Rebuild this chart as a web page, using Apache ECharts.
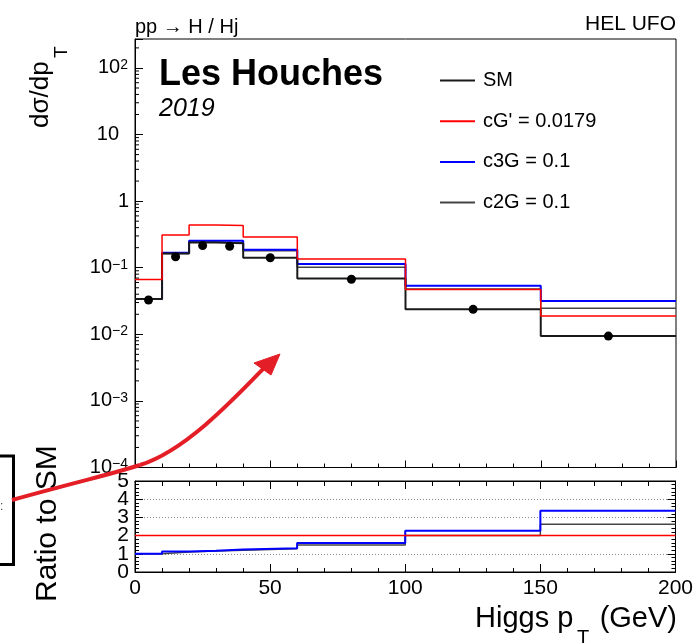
<!DOCTYPE html>
<html><head><meta charset="utf-8">
<script src="https://cdn.jsdelivr.net/npm/echarts@6/dist/echarts.min.js"></script>
<style>html,body{margin:0;padding:0;background:#fff}#c{width:696px;height:643px}</style>
</head><body><div id="c"></div>
<script>
// ---- data ----
const binEdges   = [0, 10, 20, 30, 40, 60, 100, 150, 200];
const binCenters = [5, 15, 25, 35, 50, 80, 125, 175];
const smHist     = [0.034, 0.164, 0.240, 0.233, 0.141, 0.069, 0.0237, 0.0094];
const smPoints   = [0.0328, 0.146, 0.215, 0.210, 0.141, 0.0672, 0.0237, 0.0094];
const cGHist     = [0.0668, 0.310, 0.437, 0.430, 0.290, 0.135, 0.047, 0.0188];
const c3GHist    = [0.034, 0.168, 0.255, 0.255, 0.186, 0.114, 0.0537, 0.0316];
const c2GHist    = [0.034, 0.164, 0.243, 0.236, 0.180, 0.102, 0.0479, 0.0246];
const cGRatio    = [2.0, 2.0, 2.0, 2.0, 2.0, 2.0, 2.0, 2.0];
const c3GRatio   = [1.0, 1.12, 1.17, 1.23, 1.30, 1.60, 2.27, 3.36];
const c2GRatio   = [1.0, 1.10, 1.15, 1.20, 1.28, 1.49, 2.00, 2.63];
const xTickLabels = ['0', '50', '100', '150', '200'];
const ratioTickLabels = ['0', '1', '2', '3', '4', '5'];
const seriesNames = ['SM', "cG' = 0.0179", 'c3G = 0.1', 'c2G = 0.1'];
const logMin = -4, logMax = Math.log10(272);

const FF = '"Liberation Sans", Arial, Helvetica, sans-serif';
const lg = v => Math.log10(v);
const id = v => v;
function stepData(vals, tf) {
  const d = [];
  for (let i = 0; i < vals.length; i++) d.push([binEdges[i], tf(vals[i])]);
  d.push([binEdges[vals.length], tf(vals[vals.length - 1])]);
  return d;
}
// minor log ticks 2..9 x 10^n
const minorLog = [];
for (let n = logMin; n <= 2; n++) for (let k = 2; k <= 9; k++) {
  const l = n + Math.log10(k);
  if (l < logMax) minorLog.push([0, l]);
}

const chart = echarts.init(document.getElementById('c'), null, {renderer: 'canvas'});
const black = '#000';
const tickStyle = {color: black, width: 1};

function stepSeries(name, vals, tf, color, width, xi, yi, z) {
  return {
    name, type: 'line', step: 'end', xAxisIndex: xi, yAxisIndex: yi,
    data: stepData(vals, tf), showSymbol: false, symbol: 'none',
    lineStyle: {color, width}, itemStyle: {color}, z, animation: false, silent: true
  };
}
// ratio labels split over two overlaid axes (even / odd) so none are auto-hidden
function ratioLabelAxis(parity, withLine) {
  return {gridIndex: 1, type: 'value', min: 0, max: 5, interval: 1, position: 'left',
    axisLine: {show: withLine, onZero: false, lineStyle: tickStyle},
    axisTick: {show: withLine, inside: true, length: 8, lineStyle: tickStyle},
    minorTick: {show: withLine, splitNumber: 5, length: 4, lineStyle: tickStyle},
    axisLabel: {show: true, margin: 6, fontSize: 21, fontFamily: FF, color: black,
      showMinLabel: true, showMaxLabel: true, hideOverlap: false,
      formatter: v => { const n = Math.round(v); return n % 2 === parity ? ratioTickLabels[n] : ''; }},
    splitLine: {show: withLine, lineStyle: {type: [1, 2], color: '#888', width: 1}}};
}

const option = {
  animation: false,
  backgroundColor: '#fff',
  grid: [
    {left: 135, top: 39, width: 541, height: 428.5, show: true, borderColor: black, borderWidth: 1, backgroundColor: 'transparent'},
    {left: 135, top: 481, width: 541, height: 91, show: true, borderColor: black, borderWidth: 1, backgroundColor: 'transparent'}
  ],
  legend: {
    data: seriesNames, orient: 'vertical', left: 440, top: 70.5, padding: 0,
    itemWidth: 35, itemHeight: 2, itemGap: 20.7, icon: 'rect', selectedMode: false,
    textStyle: {fontSize: 20, fontFamily: FF, color: black, padding: [0, 0, 0, 3]}
  },
  xAxis: [
    {gridIndex: 0, type: 'value', min: 0, max: 200, interval: 50, position: 'bottom',
     axisLine: {show: true, onZero: false, lineStyle: tickStyle},
     axisTick: {show: true, inside: true, length: 7, lineStyle: tickStyle},
     minorTick: {show: true, splitNumber: 5, length: 4, lineStyle: tickStyle},
     axisLabel: {show: false}, splitLine: {show: false}},
    {gridIndex: 1, type: 'value', min: 0, max: 200, interval: 50, position: 'bottom',
     axisLine: {show: true, onZero: false, lineStyle: tickStyle},
     axisTick: {show: true, inside: true, length: 8, lineStyle: tickStyle},
     minorTick: {show: true, splitNumber: 5, length: 4, lineStyle: tickStyle},
     axisLabel: {show: true, margin: 6, fontSize: 21, fontFamily: FF, color: black,
       showMinLabel: true, showMaxLabel: true, hideOverlap: false,
       formatter: v => xTickLabels[Math.round(v / 50)]},
     splitLine: {show: false}},
    {gridIndex: 1, type: 'value', min: 0, max: 200, interval: 50, position: 'top',
     axisLine: {show: true, onZero: false, lineStyle: tickStyle},
     axisTick: {show: true, inside: true, length: 8, lineStyle: tickStyle},
     minorTick: {show: true, splitNumber: 5, length: 5, lineStyle: tickStyle},
     axisLabel: {show: false}, splitLine: {show: false}}
  ],
  yAxis: [
    {gridIndex: 0, type: 'value', min: logMin, max: logMax, interval: 1,
     axisLine: {show: true, onZero: false, lineStyle: tickStyle},
     axisTick: {show: true, inside: true, length: 8, lineStyle: tickStyle},
     splitLine: {show: false},
     axisLabel: {show: true, margin: 6, fontFamily: FF, color: black, showMaxLabel: true, showMinLabel: true, hideOverlap: false,
       formatter: v => {
         const n = Math.round(v);
         if (Math.abs(v - n) > 1e-6) return '';
         if (n === 0) return '{b|1}';
         if (n === 1) return '{t|10}';
         return '{b|10}{s|' + (n < 0 ? '\u2212' : '') + Math.abs(n) + '}';
       },
       rich: {
         b: {fontSize: 20, fontFamily: FF, color: black, lineHeight: 20},
         t: {fontSize: 20, fontFamily: FF, color: black, lineHeight: 20, padding: [0, 10, 0, 0]},
         s: {fontSize: 14, fontFamily: FF, color: black, lineHeight: 14, verticalAlign: 'top', padding: [0, 1, 0, 0]}
       }}},
    ratioLabelAxis(0, true),
    {gridIndex: 1, type: 'value', min: 0, max: 5, interval: 1, position: 'right',
     axisLine: {show: true, onZero: false, lineStyle: tickStyle},
     axisTick: {show: true, inside: true, length: 8, lineStyle: tickStyle},
     minorTick: {show: true, splitNumber: 5, length: 4, lineStyle: tickStyle},
     axisLabel: {show: false}, splitLine: {show: false}},
    ratioLabelAxis(1, false)
  ],
  series: [
    {type: 'custom', xAxisIndex: 0, yAxisIndex: 0, data: minorLog, silent: true, clip: false, z: 5,
     renderItem: (params, api) => {
       const p = api.coord([api.value(0), api.value(1)]);
       return {type: 'line', shape: {x1: p[0], y1: p[1], x2: p[0] + 4, y2: p[1]},
               style: {stroke: black, lineWidth: 1}};
     }},
    stepSeries(seriesNames[3], c2GHist, lg, '#444', 1.5, 0, 0, 2),
    stepSeries(seriesNames[2], c3GHist, lg, '#0000ff', 2, 0, 0, 3),
    stepSeries(seriesNames[0], smHist, lg, '#1a1a1a', 2, 0, 0, 4),
    stepSeries(seriesNames[1], cGHist, lg, '#ff0000', 1.5, 0, 0, 4),
    {name: 'SM points', type: 'scatter', xAxisIndex: 0, yAxisIndex: 0, symbol: 'circle', symbolSize: 9,
     itemStyle: {color: black, opacity: 1}, z: 6, silent: true,
     data: binCenters.map((c, i) => [c, lg(smPoints[i])])},
    stepSeries(seriesNames[3], c2GRatio, id, '#444', 1.5, 1, 1, 2),
    stepSeries(seriesNames[2], c3GRatio, id, '#0000ff', 2, 1, 1, 3),
    stepSeries(seriesNames[1], cGRatio, id, '#ff0000', 1.5, 1, 1, 4)
  ],
  graphic: [
    {type: 'text', x: 135, y: 27, z: 100, style: {text: 'pp \u2192 H / Hj', fontSize: 20, fontFamily: FF, fill: black, align: 'left', verticalAlign: 'middle', textAlign: 'left', textVerticalAlign: 'middle'}},
    {type: 'text', x: 676, y: 24.5, z: 100, style: {text: 'HEL UFO', fontSize: 21, fontFamily: FF, fill: black, align: 'right', verticalAlign: 'middle', textAlign: 'right', textVerticalAlign: 'middle'}},
    {type: 'text', x: 159, y: 75.5, z: 100, style: {text: 'Les Houches', fontSize: 36, fontWeight: 'bold', fontFamily: FF, fill: black, align: 'left', verticalAlign: 'middle', textAlign: 'left', textVerticalAlign: 'middle'}},
    {type: 'text', x: 159, y: 109.5, z: 100, style: {text: '2019', fontSize: 25, fontStyle: 'italic', fontFamily: FF, fill: black, align: 'left', verticalAlign: 'middle', textAlign: 'left', textVerticalAlign: 'middle'}},
    {type: 'text', x: 41, y: 128, rotation: Math.PI / 2, z: 100, style: {text: 'd\u03c3/dp', fontSize: 26, fontFamily: FF, fill: black, align: 'left', verticalAlign: 'middle', textAlign: 'left', textVerticalAlign: 'middle'}},
    {type: 'text', x: 62, y: 58, rotation: Math.PI / 2, z: 100, style: {text: 'T', fontSize: 19, fontFamily: FF, fill: black, align: 'left', verticalAlign: 'middle', textAlign: 'left', textVerticalAlign: 'middle'}},
    {type: 'text', x: 48, y: 602, rotation: Math.PI / 2, z: 100, style: {text: 'Ratio to SM', fontSize: 30, fontFamily: FF, fill: black, align: 'left', verticalAlign: 'middle', textAlign: 'left', textVerticalAlign: 'middle'}},
    {type: 'text', x: 475, y: 619, z: 100, style: {text: 'Higgs p', fontSize: 29, fontFamily: FF, fill: black, align: 'left', verticalAlign: 'middle', textAlign: 'left', textVerticalAlign: 'middle'}},
    {type: 'text', x: 577, y: 638, z: 100, style: {text: 'T', fontSize: 20, fontFamily: FF, fill: black, align: 'left', verticalAlign: 'middle', textAlign: 'left', textVerticalAlign: 'middle'}},
    {type: 'text', x: 677, y: 619, z: 100, style: {text: '(GeV)', fontSize: 29, fontFamily: FF, fill: black, align: 'right', verticalAlign: 'middle', textAlign: 'right', textVerticalAlign: 'middle'}},
    // cropped box at the left edge
    {type: 'polyline', z: 100, shape: {points: [[0, 456], [13.5, 456], [13.5, 564.5], [0, 564.5]]}, style: {stroke: black, lineWidth: 3, fill: null}},
    {type: 'text', x: 0, y: 507, z: 100, style: {text: ':', fontSize: 12, fontFamily: FF, fill: '#444', align: 'left', verticalAlign: 'middle', textAlign: 'left', textVerticalAlign: 'middle'}},
    // red annotation arrow
    {type: 'bezierCurve', z: 101, shape: {x1: 12, y1: 500, cpx1: 80, cpy1: 481, cpx2: 120, cpy2: 472, x2: 140, y2: 465}, style: {stroke: '#e41e26', lineWidth: 4, fill: null}},
    {type: 'bezierCurve', z: 101, shape: {x1: 140, y1: 465, cpx1: 185, cpy1: 451, cpx2: 233, cpy2: 400, x2: 265, y2: 367}, style: {stroke: '#e41e26', lineWidth: 4, fill: null}},
    {type: 'polygon', z: 102, shape: {points: [[280, 354], [254, 363], [271, 375]]}, style: {fill: '#e41e26', stroke: '#e41e26', lineWidth: 1}}
  ]
};
chart.setOption(option);
</script>
</body></html>
